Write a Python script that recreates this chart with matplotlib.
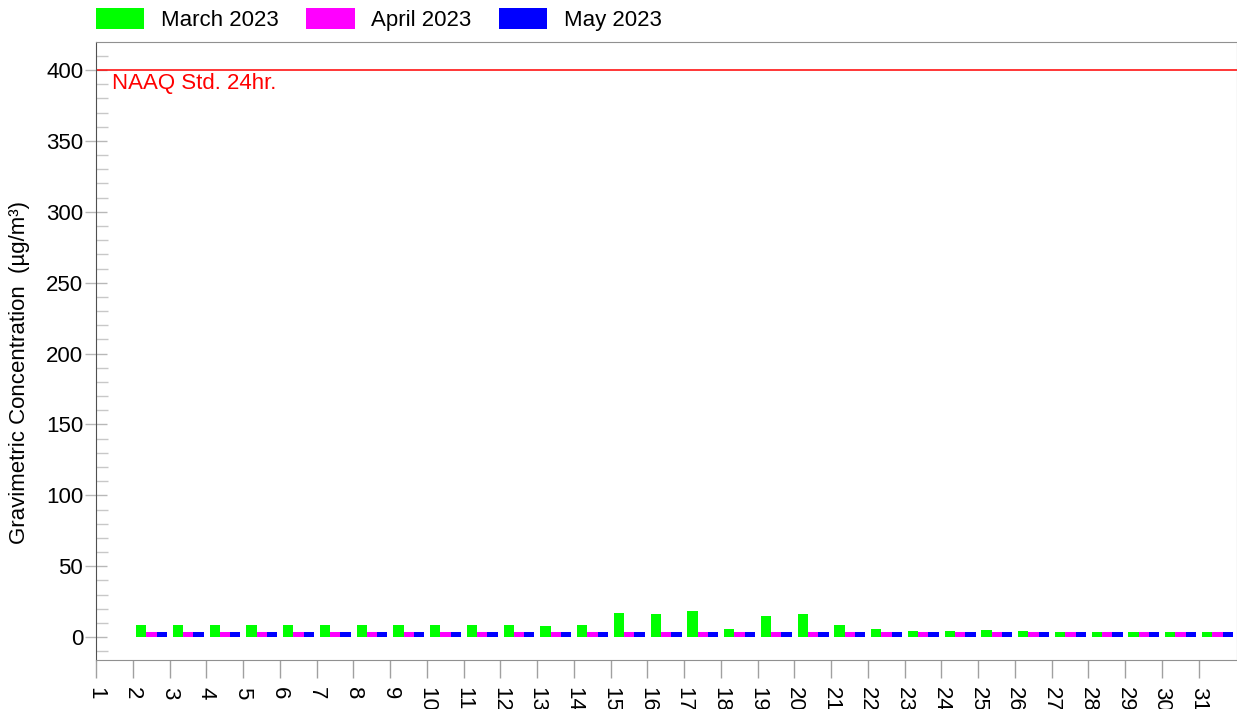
import matplotlib.pyplot as plt
import numpy as np
from matplotlib.patches import Patch
from matplotlib.ticker import MultipleLocator

plt.rcParams["font.family"] = ["Liberation Sans", "DejaVu Sans"]

DPI = 100
FIG_SIZE = (12.37, 7.09)

days = list(range(2, 32))
march = [
    8.5, 8.5, 8.5, 8.5, 8.5, 8.5, 8.5, 8.5, 8.5, 8.5, 8.5, 7.8, 8.5,
    16.9, 16.2, 18.3, 5.6, 14.8, 16.2, 8.5, 5.6, 4.2, 4.2, 4.9, 4.2,
    3.5, 3.5, 3.5, 3.5, 3.5,
]
april = [3.5] * 30
may = [3.5] * 30
series = [
    ["March 2023", march, "#00ff00"],
    ["April 2023", april, "#ff00ff"],
    ["May 2023", may, "#0000ff"],
]
x_ticks = list(range(1, 32))
naaq_limit = 400

fig = plt.figure(figsize=FIG_SIZE, dpi=DPI)
ax = fig.add_axes([0.0776, 0.069, 0.922, 0.8718])

bar_width = 0.28
x = np.array(days)
for i, (label, values, color) in enumerate(series):
    ax.bar(x + 0.23 + i * bar_width, values, width=bar_width, color=color,
           linewidth=0, label=label)

ax.axhline(naaq_limit, color="red", linewidth=1.1)
ax.text(1.43, naaq_limit - 2, "NAAQ Std. 24hr.", color="red", fontsize=16,
        va="top", ha="left")

ax.set_xlim(1, 32.03)
ax.set_ylim(-16.2, 419.8)

ax.set_xticks(x_ticks)
ax.set_xticklabels([str(d) for d in x_ticks], rotation=270, fontsize=16,
                   va="top", ha="center")
ax.tick_params(axis="x", direction="out", length=13, color="#a0a0a0",
               width=1, pad=6.5)

ax.yaxis.set_major_locator(MultipleLocator(50))
ax.yaxis.set_minor_locator(MultipleLocator(10))
ax.set_yticks([v for v in range(0, 401, 50)])
ax.tick_params(axis="y", which="major", direction="inout", length=16.5,
               color="#b8b8b8", width=1, labelsize=16, pad=1)
ax.tick_params(axis="y", which="minor", direction="in", length=8.6,
               color="#c8c8c8", width=1)

ax.set_ylabel("Gravimetric Concentration  (\u00b5g/m\u00b3)", fontsize=16)
ax.yaxis.set_label_coords(-0.058, 0.466)

for side in ["top", "right", "bottom"]:
    ax.spines[side].set_color("#909090")
ax.spines["left"].set_color("#505050")

handles = [Patch(facecolor=c, edgecolor="none") for _, _, c in series]
fig.legend(handles, [s[0] for s in series], loc="upper left",
           bbox_to_anchor=(96 / 1237, 1 - 8 / 709), ncol=3, frameon=False,
           fontsize=16, handlelength=2.18, handleheight=1.1,
           columnspacing=1.25, handletextpad=0.73, borderpad=0,
           borderaxespad=0)

plt.savefig("out.png", dpi=DPI)
